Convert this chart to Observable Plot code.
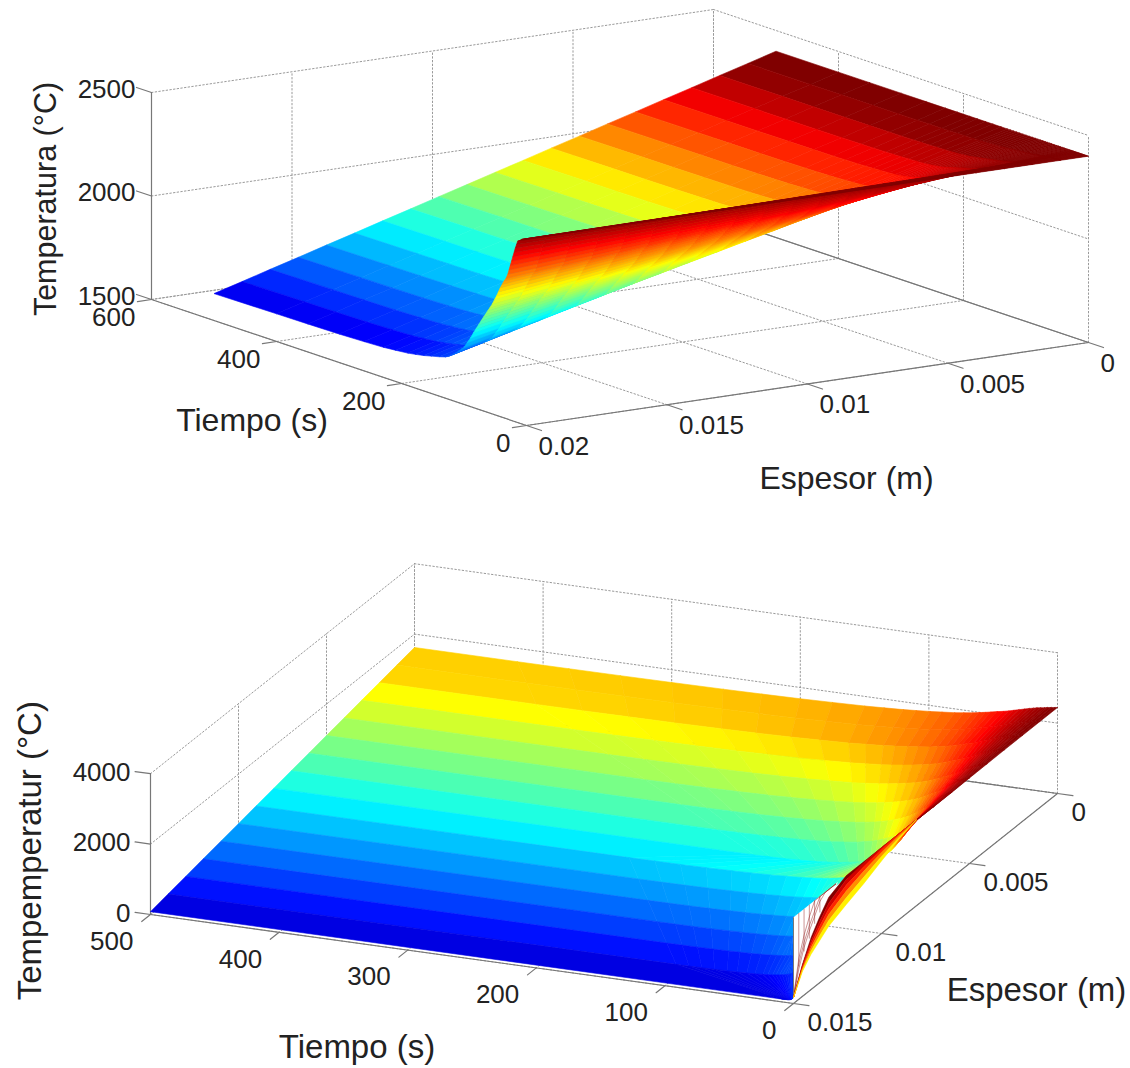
<!DOCTYPE html>
<html>
<head>
<meta charset="utf-8">
<script src="https://cdn.jsdelivr.net/npm/d3@7"></script>
<script src="https://cdn.jsdelivr.net/npm/@observablehq/plot@0.6"></script>
<style>
html,body{margin:0;padding:0;background:#fff}
svg{display:block;background:#fff}
</style>
</head>
<body>
<div id="chart"></div>
<script>
// ---------- Panel 1 values ----------
const espesorA = [0,.001,.002,.003,.004,.005,.006,.007,.008,.009,.01,.011,.012,.013,.014,.015,.016,.017,.018,.019,.02];
const mesetaA  = [2400,2361,2323,2284,2246,2207,2169,2130,2092,2053,2015,1976,1938,1899,1861,1822,1784,1745,1707,1668,1630];
const colorFilaA = [2400,2385,2347,2307,2267,2228,2188,2148,2108,2069,2029,1989,1949,1910,1870,1830,1790,1750,1711,1671,1630];
const frenteA  = [2400,2400,2400,2400,2400,2400,2400,2400,2400,2400,2400,2400,2400,2400,2400,2400,2400,2400,2400,2400,2400];
const anchoA   = [1,1,1,1,1,1,1,1,1,1,1,1,1,1,1,1,1,1,1,1,1];
const inicioA  = [0,0,0,0,0,0,0,0,0,0,0,0,0,0,0,0,0,0,0,0,0];
const tiempoA  = [0,2,4,6,8,10,12,14,16,18,20,22,24,26,28,30,33,36,39,42,45,48,51,55,59,62,66,69,73,77,81,85,90,95,100,105,110,115,120,125,130,140,153,165,178,190,210,229,260,300,350,400,500];
const subidaA  = [1,.998,.995,.992,.988,.98,.975,.97,.945,.92,.89,.86,.83,.80,.77,.74,.71,.69,.665,.64,.61,.58,.555,.52,.49,.47,.44,.42,.39,.36,.33,.30,.26,.225,.19,.17,.15,.13,.115,.10,.09,.078,.065,.053,.043,.035,.027,.02,.015,.01,.007,.005,0];
const ticksTiempoA  = [0,200,400,600];
const ticksEspesorA = [0,.005,.01,.015,.02];
const ticksTempA    = [1500,2000,2500];

// ---------- Panel 2 values ----------
const espesorB = [0,.001,.002,.003,.004,.005,.006,.007,.008,.009,.01,.011,.012,.013,.014,.015];
const mesetaB  = [1620,1517,1415,1312,1209,1107,1004,901,799,696,593,491,388,285,183,80];
const colorFilaB = [1640,1625,1525,1418,1310,1203,1096,988,881,773,666,559,451,344,237,80];
const frenteB  = [2443,2443,2442,2440,2435,2430,2420,2420,2430,1600,1400,1200,1000,800,600,170];
const anchoB   = [1,.95,.9,.8,.7,.6,.5,.4,.3,.5,.45,.4,.35,.3,.25,.02];
const inicioB  = [0,0,0,0,0,0,0,0,0,40,45,45,41,27,14,0];
const tiempoB  = [0,2,5,8,10,13,16,19,22,26,30,34,38,42,47,52,56,61,66,73,80,90,99,110,120,135,150,175,200,230,260,300,340,380,420,500];
const subidaB  = [1,.985,.97,.95,.93,.91,.89,.86,.83,.785,.74,.695,.65,.61,.57,.525,.49,.45,.41,.37,.33,.29,.255,.22,.19,.16,.13,.10,.073,.052,.035,.02,.01,.004,0,0];
const ticksTiempoB  = [0,100,200,300,400,500];
const ticksEspesorB = [0,.005,.01,.015];
const ticksTempB    = [0,2000,4000];

// Wedge at the front of panel 2 (t = 0 wall seen from below)
const cunaEspesor = [.015,.0145,.014,.0135,.013,.012,.011,.01,.009,.008];
const cunaCurvas = [
  [170,900,1477,1880,2220,2440,2440,2440,2440,2440],
  [170,860,1380,1745,2055,2330,2410,2440,2440,2440],
  [170,820,1285,1610,1890,2170,2300,2400,2440,2440],
  [170,780,1190,1475,1730,2000,2170,2310,2400,2440],
  [170,740,1095,1340,1565,1810,2000,2190,2340,2440],
  [170,700,1000,1200,1400,1620,1820,2060,2280,2440]
];
const cunaColor = [2440,2250,2050,1800,1560];
const mallaEspesor = [.015,.0147,.0144,.0141,.0138,.0135,.0132,.0129,.0126];
const mallaCurvas = [
  [170,1150,1700,2100,2440,2440,2440,2440,2440],
  [170,1000,1500,1850,2150,2440,2440,2440,2440],
  [170,850,1350,1700,2000,2300,2440,2440,2440]
];
const mallaColumnas = [[.0147,950,2440],[.0144,1250,2440],[.0141,1500,2440],[.0138,1800,2440],[.0135,2000,2440]];
const paredTemp = 2440;

// ---------- Orthographic views ----------
const H = 534;
const vistaA = {
  sx: d => 1088 - 28100*d.e - 0.625*d.t,
  sy: d => 342 + 4150*d.e - 0.21*d.t - 0.207*(d.T-1500)
};
const vistaB = {
  sx: d => 1057 - 17600*d.e - 1.286*d.t,
  sy: d => 793 + 14000*d.e - 0.178*d.t - 0.0352*d.T - H
};

function jet(f){
  const c = v => Math.round(255*Math.max(0,Math.min(1,v)));
  const r = 1.5-Math.abs(4*f-3), g = 1.5-Math.abs(4*f-2), b = 1.5-Math.abs(4*f-1);
  return `rgb(${c(r)},${c(g)},${c(b)})`;
}

function superficie(xs,P,C,E,A,I,ts,g){
  const out=[]; let id=0;
  const last=ts.length-1;
  // each row only exists from its own first visible time step on
  const first=xs.map((_,i)=>{let k=0;while(k<last&&ts[k]*A[i]<I[i])k++;return k;});
  const idx=(i,j)=>Math.max(j,first[i]);
  const pt=(i,j)=>{const k=idx(i,j);return {e:xs[i],t:k===last?ts[k]:ts[k]*A[i],T:P[i]+(E[i]-P[i])*g[k]};};
  for(let j=last-1;j>=0;j--) for(let i=0;i<xs.length-1;i++){
    if(j<first[i]&&j<first[i+1]) continue;
    const a=pt(i,j),b=pt(i,j+1),c=pt(i+1,j+1),d=pt(i+1,j);
    const ga=(g[idx(i,j)]+g[idx(i,j+1)])/2;
    const col=C[i]+(E[i]-C[i])*ga;
    for(const p of [a,b,c,d,a]) out.push({...p,id,col});
    id++;
  }
  return out;
}

function caja({xs,ts,zs,eMin,eMax,tMax,zMin,zMax}){
  const grid=[]; let id=0;
  const add=(a,b)=>{grid.push({...a,id},{...b,id});id++;};
  for(const e of xs){
    add({e,t:tMax,T:zMin},{e,t:tMax,T:zMax});
    add({e,t:0,T:zMin},{e,t:tMax,T:zMin});
  }
  for(const t of ts){
    add({e:eMin,t,T:zMin},{e:eMin,t,T:zMax});
    add({e:eMin,t,T:zMin},{e:eMax,t,T:zMin});
  }
  for(const T of zs){
    add({e:eMax,t:tMax,T},{e:eMin,t:tMax,T});
    add({e:eMin,t:tMax,T},{e:eMin,t:0,T});
  }
  return grid;
}

function ejes({eMin,eMax,tMax,zMin,zMax}){
  return [
    {e:eMax,t:tMax,T:zMin,id:0},{e:eMax,t:tMax,T:zMax,id:0},
    {e:eMax,t:tMax,T:zMin,id:1},{e:eMax,t:0,T:zMin,id:1},
    {e:eMax,t:0,T:zMin,id:2},{e:eMin,t:0,T:zMin,id:2},
    {e:eMin,t:0,T:zMin,id:3},{e:eMin,t:tMax,T:zMin,id:3}
  ];
}

function marcas({xs,ts,zs,eMax,tMax,zMin,dE,dT}){
  const out=[]; let id=0;
  const add=(a,b)=>{out.push({...a,id},{...b,id});id++;};
  for(const e of xs) add({e,t:0,T:zMin},{e,t:-dT,T:zMin});
  for(const t of ts) add({e:eMax,t,T:zMin},{e:eMax+dE,t,T:zMin});
  for(const T of zs) add({e:eMax,t:tMax,T},{e:eMax,t:tMax+dT,T});
  return out;
}

const FONT = "Liberation Sans, Arial, sans-serif";
const INK = "#222";

function panel({vista,color,sup,box,extra=[],labels}){
  const {sx,sy}=vista;
  const gridMk = Plot.line(caja(box),{x:sx,y:sy,z:"id",stroke:"#9a9a9a",strokeWidth:1,strokeDasharray:"1.5,2.2"});
  const axMk = Plot.line(ejes(box),{x:sx,y:sy,z:"id",stroke:"#777",strokeWidth:1.2});
  const tickMk = Plot.line(marcas(box),{x:sx,y:sy,z:"id",stroke:"#777",strokeWidth:1.2});
  const surf = Plot.line(sup,{x:sx,y:sy,z:"id",fill:"col",stroke:"col",strokeWidth:0.6,curve:"linear"});
  return Plot.plot({
    width:1130,height:H,margin:0,
    style:{background:"#fff"},
    x:{domain:[0,1130],range:[0,1130],axis:null},
    y:{domain:[0,H],range:[0,H],axis:null},
    color:{type:"linear",domain:color,interpolate:jet,clamp:true,legend:false},
    marks:[gridMk,axMk,tickMk,surf,...extra,...labels]
  });
}

function etiquetas(vista,{xs,ts,zs,eMax,tMax,zMin},fs,o){
  const {sx,sy}=vista;
  const base={x:sx,y:sy,fontSize:fs,fontFamily:FONT,fill:INK,stroke:"none"};
  return [
    Plot.text(zs.map(T=>({e:eMax,t:tMax,T,txt:String(T)})),{...base,text:"txt",textAnchor:"end",dx:o.z[0],dy:o.z[1]}),
    Plot.text(ts.map(t=>({e:eMax,t,T:zMin,txt:String(t)})),{...base,text:"txt",textAnchor:"end",dx:o.t[0],dy:o.t[1]}),
    Plot.text(xs.map(e=>({e,t:0,T:zMin,txt:String(e)})),{...base,text:"txt",textAnchor:"start",dx:o.e[0],dy:o.e[1]})
  ];
}

function titulo(vista,d,text,fs,dx,dy,rotate=0){
  return Plot.text([{...d,txt:text}],{x:vista.sx,y:vista.sy,text:"txt",fontSize:fs,fontFamily:FONT,fill:INK,dx,dy,rotate});
}

// Panel 1
const cajaA={xs:ticksEspesorA,ts:ticksTiempoA,zs:ticksTempA,eMin:0,eMax:.02,tMax:600,zMin:1500,zMax:2500,dE:.0005,dT:24};
const p1=panel({
  vista:vistaA,color:[1580,2400],
  sup:superficie(espesorA,mesetaA,colorFilaA,frenteA,anchoA,inicioA,tiempoA,subidaA),
  box:cajaA,
  labels:[
    ...etiquetas(vistaA,cajaA,26,{z:[-16,-3],t:[-16,18],e:[12,21]}),
    titulo(vistaA,{e:.02,t:600,T:2000},"Temperatura (°C)",30.5,-105,3,-90),
    titulo(vistaA,{e:.02,t:300,T:1500},"Tiempo (s)",32,-87,58),
    titulo(vistaA,{e:.01,t:0,T:1500},"Espesor (m)",32,39,95)
  ]
});

// Panel 2
const cajaB={xs:ticksEspesorB,ts:ticksTiempoB,zs:ticksTempB,eMin:0,eMax:.015,tMax:500,zMin:0,zMax:4000,dE:.0005,dT:12};

const cunaDatos=[]; let cid=0;
cunaColor.forEach((col,k)=>{
  const a=cunaCurvas[k],b=cunaCurvas[k+1];
  const pts=[...cunaEspesor.map((e,i)=>({e,t:0,T:a[i]})),...cunaEspesor.map((e,i)=>({e,t:0,T:b[i]})).reverse()];
  pts.forEach(p=>cunaDatos.push({...p,id:cid,col}));
  cid++;
});
const blanco=[
  {e:.015,t:0,T:paredTemp},{e:.0125,t:0,T:paredTemp},
  ...cunaEspesor.slice(0,5).map((e,i)=>({e,t:0,T:cunaCurvas[0][i]})).reverse()
];
const mallaDatos=[];
mallaCurvas.forEach((c,k)=>c.forEach((T,i)=>mallaDatos.push({e:mallaEspesor[i],t:0,T,id:"c"+k})));
mallaColumnas.forEach(([e,a,b],k)=>{mallaDatos.push({e,t:0,T:a,id:"v"+k},{e,t:0,T:b,id:"v"+k});});
const bordePared=[{e:.015,t:0,T:170},{e:.015,t:0,T:paredTemp}];

const sB=vistaB;
const p2=panel({
  vista:vistaB,color:[0,2443],
  sup:superficie(espesorB,mesetaB,colorFilaB,frenteB,anchoB,inicioB,tiempoB,subidaB),
  box:cajaB,
  extra:[
    Plot.line([...blanco,blanco[0]],{x:sB.sx,y:sB.sy,fill:"#fff",stroke:"#fff",strokeWidth:0.5}),
    Plot.line(mallaDatos,{x:sB.sx,y:sB.sy,z:"id",stroke:"#8b1010",strokeWidth:0.6,strokeOpacity:0.75}),
    Plot.line(bordePared,{x:sB.sx,y:sB.sy,stroke:"#777",strokeWidth:1}),
    Plot.line(cunaDatos,{x:sB.sx,y:sB.sy,z:"id",fill:"col",stroke:"col",strokeWidth:0.5})
  ],
  labels:[
    ...etiquetas(vistaB,cajaB,26,{z:[-20,-1],t:[-17,27],e:[14,19]}),
    titulo(vistaB,{e:.015,t:500,T:4000},"Tempemperatur (°C)",33,-120,77,-90),
    titulo(vistaB,{e:.015,t:250,T:0},"Tiempo (s)",33,-115,88),
    titulo(vistaB,{e:.0075,t:0,T:0},"Espesor (m)",33,111,92)
  ]
});

document.getElementById("chart").append(p1,p2);
</script>
</body>
</html>
